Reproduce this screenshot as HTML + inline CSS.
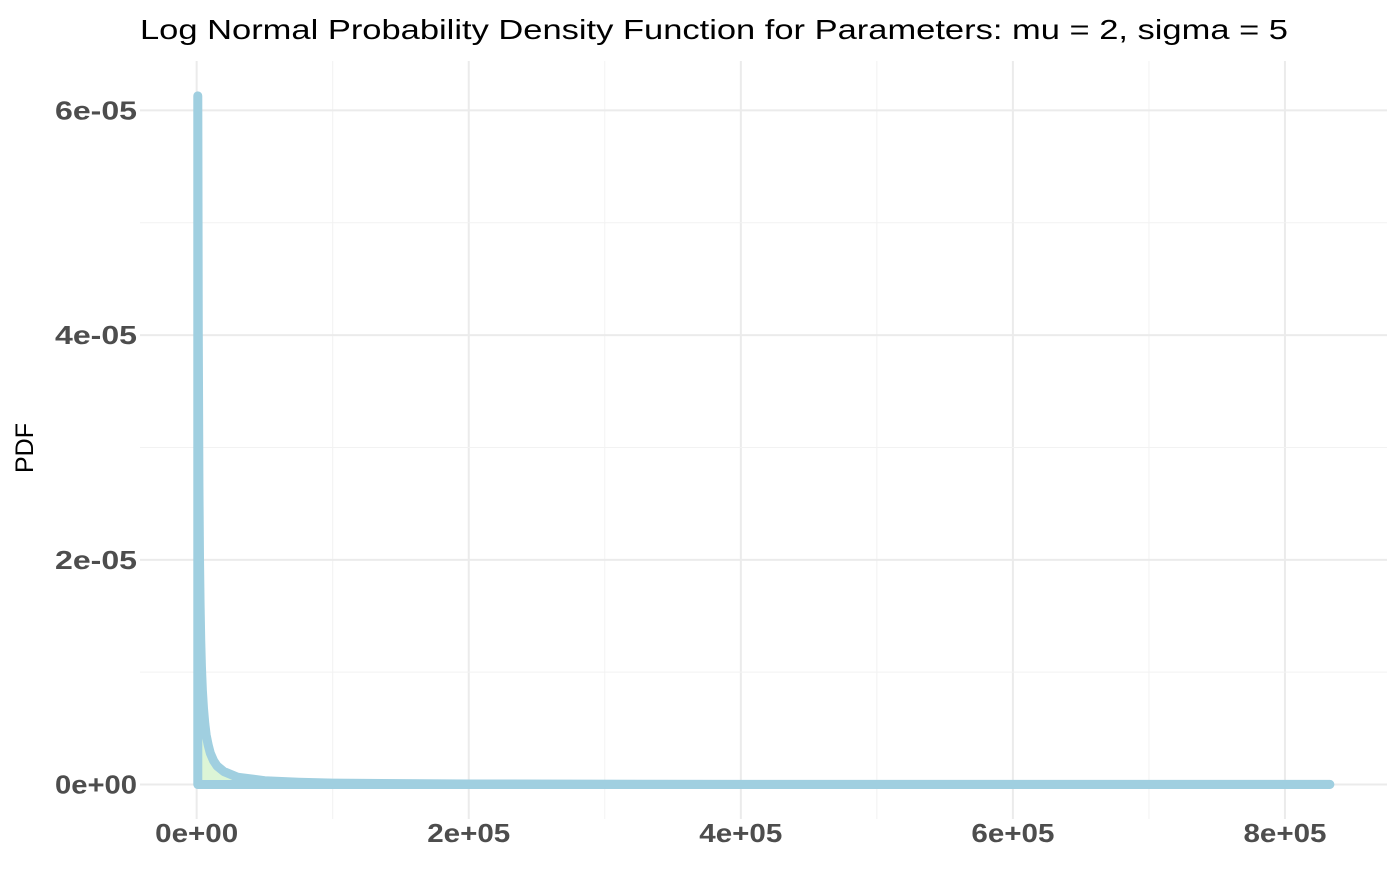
<!DOCTYPE html>
<html><head><meta charset="utf-8"><style>
body{margin:0;background:#fff;font-family:"Liberation Sans",Arial,sans-serif}
</style></head><body>
<svg id="chart" width="1400" height="865" xmlns="http://www.w3.org/2000/svg">
<text x="140" y="39" font-size="28" textLength="1148" lengthAdjust="spacingAndGlyphs" fill="#000">Log Normal Probability Density Function for Parameters: mu = 2, sigma = 5</text>
<text transform="translate(33,448) rotate(-90)" font-size="25" text-anchor="middle" fill="#000">PDF</text>
<g id="grid"></g><g id="marks"></g><g id="labels"></g>
</svg>
<script>
const xValues = [0.833, 1.2, 1.67, 2.1, 2.5, 3.0, 3.5, 4.2, 5, 6, 7, 8.5, 10, 12.5, 15, 20, 30, 50, 75, 100, 200, 400, 600, 833]; // thousands
const yValues = [6.13, 4.0, 2.66, 2.0, 1.62, 1.28, 1.05, 0.84, 0.68, 0.54, 0.44, 0.35, 0.28, 0.21, 0.165, 0.115, 0.065, 0.034, 0.02, 0.012, 0.0045, 0.0017, 0.001, 0.0007]; // 1e-5
const xTicks = [0, 200000, 400000, 600000, 800000];
const xTickLabels = ["0e+00", "2e+05", "4e+05", "6e+05", "8e+05"];
const yTicks = [0, 2e-5, 4e-5, 6e-5];
const yTickLabels = ["0e+00", "2e-05", "4e-05", "6e-05"];
const NS = "http://www.w3.org/2000/svg";
const L = 140, R = 1387, T = 61, B = 819;
const xMin = -41650, xMax = 875000, yMin = -0.307e-5, yMax = 6.44e-5;
const sx = v => L + (v - xMin) / (xMax - xMin) * (R - L);
const sy = v => B - (v - yMin) / (yMax - yMin) * (B - T);
function mk(tag, attrs, parent) { const e = document.createElementNS(NS, tag); for (const k in attrs) e.setAttribute(k, attrs[k]); parent.appendChild(e); return e; }
const grid = document.getElementById('grid'), marks = document.getElementById('marks'), labels = document.getElementById('labels');
for (let i = 0; i < xTicks.length; i++) {
  const g = mk('line', {x1: sx(xTicks[i]), x2: sx(xTicks[i]), y1: T, y2: B, stroke: '#ebebeb', 'stroke-width': 2}, grid);
  
  
  if (i < xTicks.length - 1) {
    const m = mk('line', {x1: sx((xTicks[i] + xTicks[i + 1]) / 2), x2: sx((xTicks[i] + xTicks[i + 1]) / 2), y1: T, y2: B, stroke: '#f2f2f2', 'stroke-width': 1}, grid);
    
    
  }
  const t = mk('text', {x: sx(xTicks[i]), y: 842, 'font-size': 26, 'font-weight': 'bold', fill: '#4d4d4d', 'text-anchor': 'middle', textLength: 83, lengthAdjust: 'spacingAndGlyphs'}, labels);
  t.textContent = xTickLabels[i];
  
  
}
for (let i = 0; i < yTicks.length; i++) {
  const g = mk('line', {x1: L, x2: R, y1: sy(yTicks[i]), y2: sy(yTicks[i]), stroke: '#ebebeb', 'stroke-width': 2}, grid);
  
  
  if (i < yTicks.length - 1) {
    const m = mk('line', {x1: L, x2: R, y1: sy((yTicks[i] + yTicks[i + 1]) / 2), y2: sy((yTicks[i] + yTicks[i + 1]) / 2), stroke: '#f2f2f2', 'stroke-width': 1}, grid);
    
    
  }
  const t = mk('text', {x: 137, y: sy(yTicks[i]) + 9, 'font-size': 26, 'font-weight': 'bold', fill: '#4d4d4d', 'text-anchor': 'end', textLength: 82, lengthAdjust: 'spacingAndGlyphs'}, labels);
  t.textContent = yTickLabels[i];
  
  
}
let pts = xValues.map((x, i) => sx(x * 1000).toFixed(2) + ',' + sy(yValues[i] * 1e-5).toFixed(2));
const d = 'M' + sx(xValues[0] * 1000) + ',' + sy(0) + ' L' + pts.join(' L') + ' L' + sx(xValues[xValues.length - 1] * 1000) + ',' + sy(0) + ' Z';
const area = mk('path', {d: d, fill: '#dcf5d6', stroke: '#a0cfe0', 'stroke-width': 9, 'stroke-linejoin': 'round', 'stroke-linecap': 'round'}, marks);


</script>
</body></html>
